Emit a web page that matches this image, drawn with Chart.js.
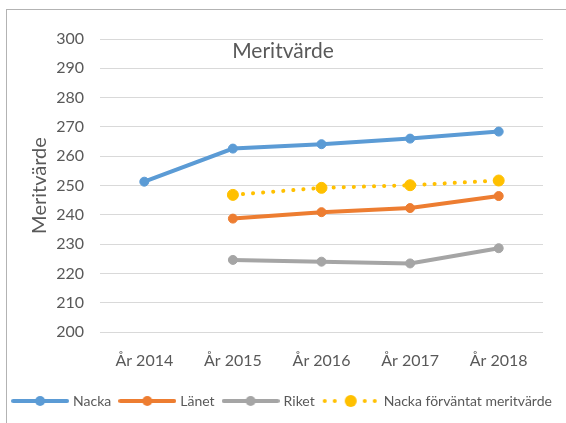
<!DOCTYPE html>
<html>
<head>
<meta charset="utf-8">
<script src="https://cdn.jsdelivr.net/npm/chart.js@4/dist/chart.umd.min.js"></script>
<style>
  html, body { margin: 0; padding: 0; background: #fff; overflow: hidden; }
  #wrap { position: relative; width: 566px; height: 423px; }
  #frame { position: absolute; left: 6px; top: 9px; width: 600px; height: 500px; border: 1px solid #b3b3b3; }
  #c { position: absolute; left: 0; top: 0; }
</style>
</head>
<body>
<div id="wrap">
  <div id="frame"></div>
  <canvas id="c" width="566" height="423"></canvas>
</div>
<script>
// Data
const years = ["År 2014", "År 2015", "År 2016", "År 2017", "År 2018"];
const nacka = [251.3, 262.6, 264.1, 266.0, 268.4];
const lanet = [null, 238.7, 240.9, 242.3, 246.4];
const riket = [null, 224.6, 224.0, 223.4, 228.6];
const nackaForvantat = [null, 246.8, 249.2, 250.1, 251.7];

const yMin = 200;
const yMax = 300;
const yStep = 10;

const FONT = "Lato, 'Liberation Sans', sans-serif";
const TEXT = "#595959";
const GRID = "#d9d9d9";

// Legend symbols: a piece of line with the marker in the middle
function legendIcon(color, dotted, r) {
  const cv = document.createElement("canvas");
  cv.width = 58;
  cv.height = 16;
  const c = cv.getContext("2d");
  c.strokeStyle = color;
  c.fillStyle = color;
  if (dotted) {
    for (let x = 3; x < 58; x += 10) {
      if (Math.abs(x - 29) < 8) continue;
      c.beginPath();
      c.arc(x, 8, 2, 0, Math.PI * 2);
      c.fill();
    }
  } else {
    c.lineWidth = 4;
    c.lineCap = "round";
    c.beginPath();
    c.moveTo(2, 8);
    c.lineTo(56, 8);
    c.stroke();
  }
  c.beginPath();
  c.arc(29, 8, r, 0, Math.PI * 2);
  c.fill();
  return cv;
}

const legendIcons = [
  legendIcon("#5b9bd5", false, 5),
  legendIcon("#ed7d31", false, 5),
  legendIcon("#a5a5a5", false, 5),
  legendIcon("#ffc000", true, 6),
];

// Rubriken ligger inne i ritytan som i Excel
const innerTitle = {
  id: "innerTitle",
  afterDraw(chart) {
    const ctx = chart.ctx;
    ctx.save();
    ctx.font = "21px " + FONT;
    ctx.fillStyle = TEXT;
    ctx.textAlign = "center";
    ctx.textBaseline = "middle";
    ctx.fillText("Meritvärde", chart.width / 2, chart.chartArea.top + 12);
    ctx.restore();
  },
};

new Chart(document.getElementById("c"), {
  type: "line",
  data: {
    labels: years,
    datasets: [
      {
        label: "Nacka",
        data: nacka,
        borderColor: "#5b9bd5",
        backgroundColor: "#5b9bd5",
        borderWidth: 4,
        pointRadius: 4.5,
        pointBorderWidth: 1,
      },
      {
        label: "Länet",
        data: lanet,
        borderColor: "#ed7d31",
        backgroundColor: "#ed7d31",
        borderWidth: 4,
        pointRadius: 4.5,
        pointBorderWidth: 1,
      },
      {
        label: "Riket",
        data: riket,
        borderColor: "#a5a5a5",
        backgroundColor: "#a5a5a5",
        borderWidth: 4,
        pointRadius: 4.5,
        pointBorderWidth: 1,
      },
      {
        label: "Nacka förväntat meritvärde",
        data: nackaForvantat,
        borderColor: "#ffc000",
        backgroundColor: "#ffc000",
        borderWidth: 4,
        borderDash: [0.1, 10],
        borderCapStyle: "round",
        pointRadius: 5.5,
        pointBorderWidth: 1,
      },
    ],
  },
  options: {
    responsive: false,
    animation: false,
    layout: { padding: { left: 0, right: 0, top: 39, bottom: 5 } },
    plugins: {
      tooltip: { enabled: false },
      legend: {
        position: "bottom",
        labels: {
          usePointStyle: true,
          pointStyleWidth: 52,
          padding: 10,
          color: TEXT,
          font: { family: FONT, size: 14 },
          generateLabels: function (chart) {
            const items = Chart.defaults.plugins.legend.labels.generateLabels(chart);
            items.forEach((item, i) => {
              item.pointStyle = legendIcons[i];
            });
            return items;
          },
        },
      },
    },
    scales: {
      x: {
        offset: true,
        grid: { display: false },
        border: { display: false },
        ticks: { color: TEXT, font: { family: FONT, size: 16 }, padding: 11 },
        afterFit: function (scale) {
          scale.height = 52;
        },
      },
      y: {
        min: yMin,
        max: yMax,
        ticks: { stepSize: yStep, color: TEXT, font: { family: FONT, size: 16 }, padding: 16 },
        grid: { color: GRID, lineWidth: 1, drawTicks: false },
        border: { display: false },
        title: {
          display: true,
          text: "Meritvärde",
          color: TEXT,
          font: { family: FONT, size: 20 },
          padding: { top: 28, bottom: 4 },
        },
        afterFit: function (scale) {
          scale.width = 100;
        },
      },
      // tom axel till höger, bara för marginalen
      yRight: {
        position: "right",
        grid: { display: false },
        border: { display: false },
        ticks: { display: false },
        afterFit: function (scale) {
          scale.width = 23;
        },
      },
    },
  },
  plugins: [innerTitle],
});
</script>
</body>
</html>
